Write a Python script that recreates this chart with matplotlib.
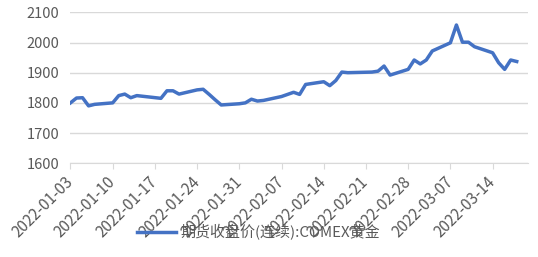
import matplotlib
matplotlib.use('Agg')
import matplotlib.pyplot as plt
import matplotlib.dates as mdates
import pandas as pd

plt.rcParams['font.family'] = ['Noto Sans CJK SC', 'DejaVu Sans']

dates = ['2022-01-03', '2022-01-04', '2022-01-05', '2022-01-06', '2022-01-07',
         '2022-01-10', '2022-01-11', '2022-01-12', '2022-01-13', '2022-01-14',
         '2022-01-18', '2022-01-19', '2022-01-20', '2022-01-21',
         '2022-01-24', '2022-01-25', '2022-01-26', '2022-01-27', '2022-01-28',
         '2022-01-31', '2022-02-01', '2022-02-02', '2022-02-03', '2022-02-04',
         '2022-02-07', '2022-02-08', '2022-02-09', '2022-02-10', '2022-02-11',
         '2022-02-14', '2022-02-15', '2022-02-16', '2022-02-17', '2022-02-18',
         '2022-02-22', '2022-02-23', '2022-02-24', '2022-02-25',
         '2022-02-28', '2022-03-01', '2022-03-02', '2022-03-03', '2022-03-04',
         '2022-03-07', '2022-03-08', '2022-03-09', '2022-03-10', '2022-03-11',
         '2022-03-14', '2022-03-15', '2022-03-16', '2022-03-17', '2022-03-18']
gold = [1800, 1816, 1817, 1790, 1795,
        1800, 1824, 1829, 1817, 1824,
        1815, 1840, 1840, 1829,
        1843, 1845, 1828, 1810, 1793,
        1797, 1800, 1812, 1806, 1808,
        1821, 1828, 1835, 1828, 1861,
        1870, 1857, 1874, 1902, 1900,
        1902, 1905, 1922, 1892,
        1911, 1942, 1929, 1942, 1972,
        1999, 2058, 2001, 2001, 1986,
        1966, 1933, 1911, 1942, 1937]
tick_dates = pd.date_range('2022-01-03', '2022-03-14', freq='7D')
label = '期货收盘价(连续):COMEX黄金'

x = pd.to_datetime(dates)

fig = plt.figure(figsize=(5.38, 2.57), dpi=100)
ax = fig.add_axes([0.131, 0.365, 0.85, 0.587])

ax.plot(x, gold, color='#4472C4', linewidth=2.5, label=label)

ax.set_ylim(1600, 2100)
ax.set_yticks(range(1600, 2101, 100))
ax.set_xlim(pd.Timestamp('2022-01-03'), pd.Timestamp('2022-03-19 20:00'))
ax.set_xticks(tick_dates)
ax.xaxis.set_major_formatter(mdates.DateFormatter('%Y-%m-%d'))

ax.grid(axis='y', color='#d9d9d9', linewidth=1)
ax.set_axisbelow(True)
for s in ['left', 'right', 'top']:
    ax.spines[s].set_visible(False)
ax.spines['bottom'].set_color('#d9d9d9')
ax.tick_params(axis='y', length=0, labelsize=10.5, labelcolor='#595959', pad=8)
ax.tick_params(axis='x', length=4, color='#d9d9d9', labelsize=11,
               labelcolor='#595959', pad=8)
for t in ax.get_xticklabels():
    t.set_rotation(45)
    t.set_ha('right')
    t.set_va('center')
    t.set_rotation_mode('anchor')

fig.legend(loc='center', bbox_to_anchor=(0.48, 0.097), frameon=False,
           fontsize=10.8, labelcolor='#595959', handlelength=2.6, handletextpad=0.3)

fig.savefig('out.png', dpi=100)
